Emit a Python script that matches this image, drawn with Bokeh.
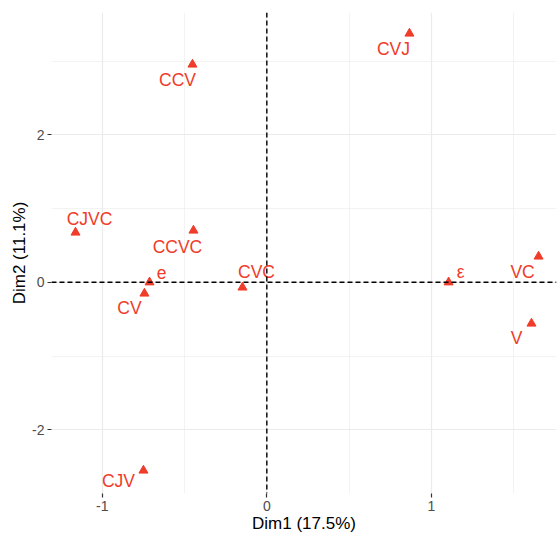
from bokeh.plotting import figure
from bokeh.models import Range1d, Span, FixedTicker, ColumnDataSource, PrintfTickFormatter
from bokeh.core.properties import value
from bokeh.embed import file_html
from bokeh.resources import INLINE

# ---- data ----
names = ["CCV", "CJVC", "CCVC", "CVJ", "VC", "e", "CV", "CVC", "CJV", "ε", "V"]
dim1 = [-0.452, -1.163, -0.446, 0.867, 1.652, -0.713, -0.744, -0.148, -0.750, 1.105, 1.609]
dim2 = [2.953, 0.675, 0.702, 3.373, 0.350, 0.0, -0.152, -0.070, -2.552, 0.0, -0.559]
x_ticks = [-1, 0, 1]
y_ticks = [-2, 0, 2]
x_title = "Dim1 (17.5%)"
y_title = "Dim2 (11.1%)"

# label placement (screen pixel offsets, like ggrepel)
label_dx = [-15, 14, -16, -16, -16, 12, -15, 14, -25, 12, -15]
label_dy = [16, -13, 16, 15, 16, -10, 15, -15, 11, -10, 14]

FONT = "Liberation Sans"
RED = "#F03C2A"

src = ColumnDataSource(dict(x=dim1, y=dim2, name=names, dx=label_dx, dy=label_dy))

p = figure(width=558, height=535, output_backend="svg", toolbar_location=None,
           x_range=Range1d(-1.309, 1.761), y_range=Range1d(-2.864, 3.658),
           min_border_left=51, min_border_right=2, min_border_top=12, min_border_bottom=42)
p.outline_line_color = None
p.background_fill_color = "white"
p.border_fill_color = "white"

p.xaxis.ticker = FixedTicker(ticks=x_ticks, minor_ticks=[-1.5, -0.5, 0.5, 1.5])
p.yaxis.ticker = FixedTicker(ticks=y_ticks, minor_ticks=[-3, -1, 1, 3])

for g in (p.xgrid, p.ygrid):
    g.grid_line_color = "#EBEBEB"
    g.grid_line_width = 1.2
    g.minor_grid_line_color = "#EBEBEB"
    g.minor_grid_line_width = 0.6

for ax in (p.xaxis, p.yaxis):
    ax.formatter = PrintfTickFormatter(format="%d")
    ax.axis_line_color = None
    ax.major_tick_line_color = "#333333"
    ax.major_tick_line_width = 1.2
    ax.major_tick_out = 4
    ax.major_tick_in = 0
    ax.minor_tick_line_color = None
    ax.major_label_text_font = FONT
    ax.major_label_text_font_size = "14px"
    ax.major_label_text_color = "#4D4D4D"
    ax.axis_label_text_font = FONT
    ax.axis_label_text_font_size = "17px"
    ax.axis_label_text_font_style = "normal"
    ax.axis_label_text_color = "black"
    ax.major_label_standoff = 3
    ax.axis_label_standoff = 0

p.xaxis.axis_label = x_title
p.yaxis.axis_label = y_title

p.add_layout(Span(location=0, dimension="height", line_color="black",
                  line_dash="5 3", line_width=1.4))
p.add_layout(Span(location=0, dimension="width", line_color="black",
                  line_dash="5 3", line_width=1.4))

p.scatter("x", "y", source=src, marker="triangle", size=9,
          fill_color=RED, line_color=RED)
p.text("x", "y", text="name", source=src, x_offset="dx", y_offset="dy",
       text_align="center", text_baseline="middle",
       text_font=value(FONT), text_font_size="17.5px", text_color=RED)

open("out.html", "w").write(file_html(p, INLINE))
